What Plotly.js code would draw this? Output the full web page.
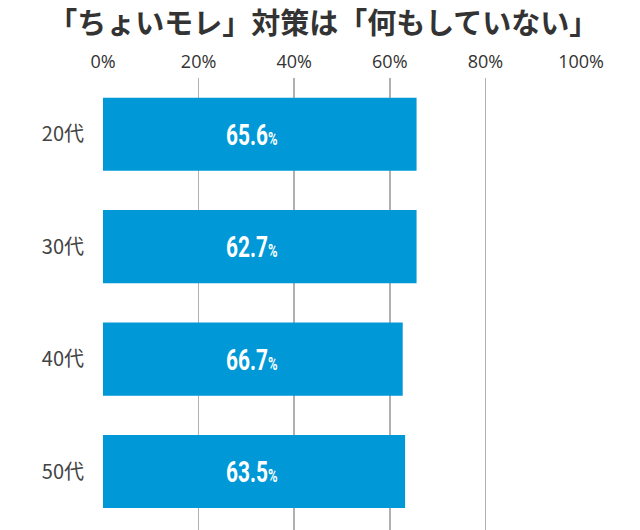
<!DOCTYPE html>
<html>
<head>
<meta charset="utf-8">
<script src="https://cdn.plot.ly/plotly-3.0.1.min.js"></script>
<style>
html,body{margin:0;padding:0;background:#fff;}
#chart{width:640px;height:530px;}
.annotation-text{transform-box:fill-box;transform-origin:center;transform:scaleX(0.72);}
</style>
</head>
<body>
<div id="chart"></div>
<script>
// Data
const categories = ["20代", "30代", "40代", "50代"];
const barLengths = [65.6, 65.6, 62.7, 63.2];     // drawn bar lengths (%)
const valueLabels = ["65.6", "62.7", "66.7", "63.5"]; // printed labels (%)
const tickVals = [0, 20, 40, 60, 80, 100];
const tickText = ["0%", "20%", "40%", "60%", "80%", "100%"];
const chartTitle = "「ちょいモレ」対策は「何もしていない」";

const LABEL_X = 31.2;

const trace = {
  type: "bar",
  orientation: "h",
  x: barLengths,
  y: categories,
  width: 0.65,
  marker: { color: "#0098d7", line: { width: 0 } },
  hoverinfo: "none"
};

const annotations = categories.map((c, i) => ({
  x: LABEL_X, y: c, xref: "x", yref: "y",
  text: valueLabels[i] + "<span style='font-size:18px'>%</span>",
  showarrow: false,
  font: { family: "Roboto, sans-serif", size: 29, color: "#ffffff", weight: 700 },
  xanchor: "center", yanchor: "middle", yshift: -1
}));

const layout = {
  width: 640, height: 530,
  margin: { l: 103, r: 59, t: 78, b: 0, pad: 0 },
  paper_bgcolor: "#ffffff", plot_bgcolor: "#ffffff",
  showlegend: false,
  title: {
    text: "<b>" + chartTitle + "</b>",
    font: { family: "Noto Sans CJK JP, sans-serif", size: 29, color: "#333333" },
    x: 0.505, xanchor: "center", y: 0.955, yanchor: "middle"
  },
  xaxis: {
    side: "top", range: [0, 100], fixedrange: true,
    tickvals: tickVals, ticktext: tickText,
    showgrid: true, gridcolor: "#b0b0b0", gridwidth: 1.5,
    zeroline: false, showline: false,
    ticks: "outside", ticklen: 2, tickcolor: "rgba(0,0,0,0)",
    tickfont: { family: "Open Sans, sans-serif", size: 18, color: "#333333" }
  },
  yaxis: {
    type: "category", range: [3.52, -0.5], fixedrange: true,
    showgrid: false, zeroline: false, showline: false,
    ticks: "outside", ticklen: 14, tickcolor: "rgba(0,0,0,0)",
    tickfont: { family: "Noto Sans CJK JP, sans-serif", size: 20, color: "#444444" }
  },
  annotations: annotations
};

Plotly.newPlot("chart", [trace], layout, { displayModeBar: false, staticPlot: true });
</script>
</body>
</html>
